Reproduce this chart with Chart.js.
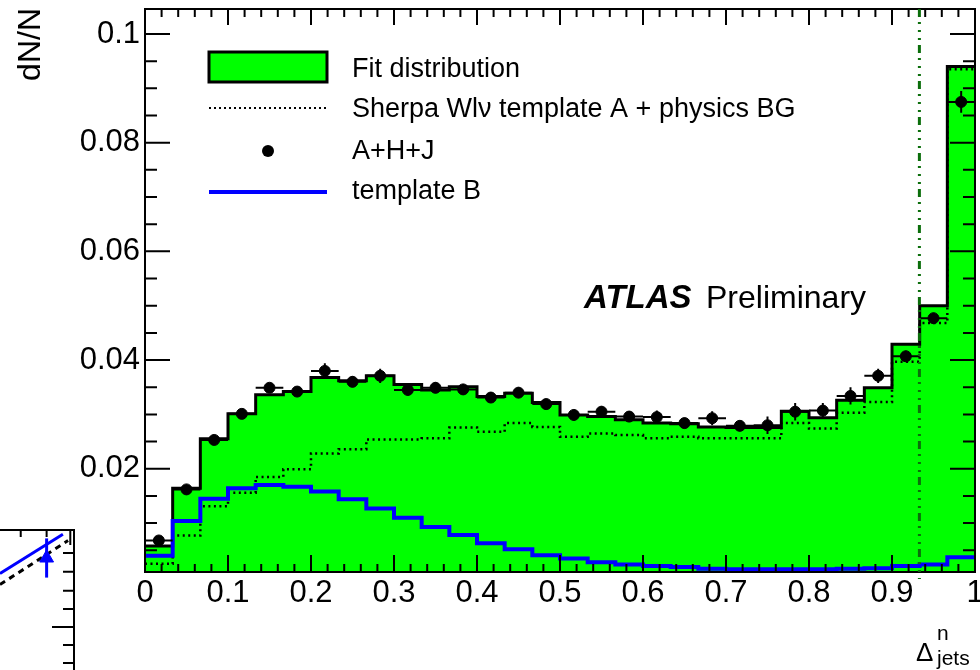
<!DOCTYPE html>
<html>
<head>
<meta charset="utf-8">
<script src="https://cdn.jsdelivr.net/npm/chart.js@4.4.1/dist/chart.umd.min.js"></script>
<style>
    body { margin: 0; background: #fff; }
    #wrap { position: relative; width: 980px; height: 670px; overflow: hidden; }
    #frag { position: absolute; left: 0; top: 520px; }
    #main { position: absolute; left: 0; top: 0; }
</style>
</head>
<body>
<div id="wrap">
    <canvas id="frag" width="90" height="150"></canvas>
    <canvas id="main" width="980" height="670"></canvas>
</div>
<script>
const FONT = '"Liberation Sans", Arial, Helvetica, sans-serif';

// 30 bins over 0..1
const N_BINS = 30;
const X_MIN = 0, X_MAX = 1;
const Y_MIN = 0.001, Y_MAX = 0.1046;
const CUT_VALUE = 0.933;

const X_TICKS  = [0, 0.1, 0.2, 0.3, 0.4, 0.5, 0.6, 0.7, 0.8, 0.9, 1];
const X_LABELS = ['0', '0.1', '0.2', '0.3', '0.4', '0.5', '0.6', '0.7', '0.8', '0.9', '1'];
const Y_TICKS  = [0.02, 0.04, 0.06, 0.08, 0.1];
const Y_LABELS = ['0.02', '0.04', '0.06', '0.08', '0.1'];

const NAMES = ['Fit distribution', 'Sherpa Wl\u03BD template A + physics BG', 'A+H+J', 'template B'];

const FIT = [0.0058, 0.0164, 0.0255, 0.0301, 0.0336, 0.0342, 0.0368, 0.0362, 0.0371, 0.0355,
             0.0345, 0.0351, 0.0333, 0.0339, 0.0322, 0.0299, 0.0296, 0.0290, 0.0284, 0.0283,
             0.0277, 0.0276, 0.0276, 0.0306, 0.0294, 0.0326, 0.0349, 0.0429, 0.0500, 0.0940];

const SHERPA = [0.0025, 0.0077, 0.0131, 0.0156, 0.0185, 0.0199, 0.0228, 0.0236, 0.0254, 0.0254,
                0.0256, 0.0276, 0.0268, 0.0284, 0.0277, 0.0259, 0.0265, 0.0262, 0.0256, 0.0259,
                0.0256, 0.0256, 0.0256, 0.0284, 0.0274, 0.0303, 0.0323, 0.0397, 0.0468, 0.0935];

const DATA = [0.0068, 0.0162, 0.0253, 0.0301, 0.0349, 0.0342, 0.0380, 0.0360, 0.0371, 0.0345,
              0.0349, 0.0346, 0.0331, 0.0340, 0.0319, 0.0299, 0.0305, 0.0296, 0.0295, 0.0284,
              0.0293, 0.0279, 0.0280, 0.0305, 0.0307, 0.0334, 0.0371, 0.0407, 0.0477, 0.0875];

const DATA_ERR = [0.0008, 0.0008, 0.0008, 0.0008, 0.0008, 0.0008, 0.0014, 0.0010, 0.0013, 0.0010,
                  0.0010, 0.0010, 0.0010, 0.0010, 0.0010, 0.0010, 0.0010, 0.0010, 0.0012, 0.0010,
                  0.0013, 0.0010, 0.0016, 0.0016, 0.0014, 0.0016, 0.0013, 0.0010, 0.0010, 0.0020];

const TEMPLATE_B = [0.0040, 0.0104, 0.0145, 0.0164, 0.0170, 0.0167, 0.0158, 0.0144, 0.0127, 0.0110,
                    0.0093, 0.0078, 0.0063, 0.0052, 0.0041, 0.0035, 0.0028, 0.0024, 0.0021, 0.0019,
                    0.0016, 0.0015, 0.0015, 0.0015, 0.0015, 0.0016, 0.0017, 0.0021, 0.0024, 0.0037];

// piece of the neighbouring panel, cut off at bottom left
const FRAG_LINE_X   = [0, 0.85];
const FRAG_LINE_Y   = [0.69, 0.97];
const FRAG_DASH_X   = [0, 0.92];
const FRAG_DASH_Y   = [0.61, 0.925];
const FRAG_POINT    = { x: 0.63, y: 0.80, err: 0.14 };
const FRAG_TOP_TICKS   = [0.28, 0.63, 0.95];
const FRAG_RIGHT_TICKS = [0.05, 0.179, 0.307, 0.436, 0.566, 0.702, 0.836];

Chart.defaults.font.family = FONT;
Chart.defaults.color = '#000';

const binW = (X_MAX - X_MIN) / N_BINS;
const edge = i => X_MIN + i * binW;

// histogram outline: two points per bin
function histPoints(vals) {
    const pts = [];
    vals.forEach((v, i) => {
        pts.push({ x: edge(i), y: v });
        pts.push({ x: edge(i + 1), y: v });
    });
    return pts;
}

const frameTicks = {
    id: 'frameTicks',
    afterDatasetsDraw(chart) {
        const { ctx, chartArea: a, scales: { x, y } } = chart;
        ctx.save();
        ctx.strokeStyle = '#000';
        ctx.lineWidth = 2;
        ctx.beginPath();
        for (let i = 0; i <= 50; i++) {
            const px = x.getPixelForValue(i * 0.02);
            const major = i % 5 === 0;
            ctx.moveTo(px, a.bottom); ctx.lineTo(px, a.bottom - (major ? 17 : 8));
            ctx.moveTo(px, a.top);    ctx.lineTo(px, a.top + (major ? 16 : 8));
        }
        for (let i = 1; i <= 20; i++) {
            const py = y.getPixelForValue(i * 0.005);
            const major = i % 4 === 0;
            ctx.moveTo(a.left, py);  ctx.lineTo(a.left + (major ? 25 : 12), py);
            ctx.moveTo(a.right, py); ctx.lineTo(a.right - (major ? 25 : 12), py);
        }
        ctx.stroke();
        ctx.strokeRect(a.left, a.top, a.right - a.left, a.bottom - a.top);

        // cut line
        const cx = x.getPixelForValue(CUT_VALUE);
        ctx.strokeStyle = '#0b6e0b';
        ctx.lineWidth = 3;
        ctx.setLineDash([8, 5, 2, 6, 2, 6, 2, 5]);
        ctx.beginPath();
        ctx.moveTo(cx, a.top);
        ctx.lineTo(cx, a.bottom + 7);
        ctx.stroke();
        ctx.restore();
    }
};

const errorBars = {
    id: 'errorBars',
    afterDatasetsDraw(chart) {
        const { ctx, scales: { x, y } } = chart;
        ctx.save();
        ctx.strokeStyle = '#000';
        ctx.lineWidth = 2;
        ctx.beginPath();
        DATA.forEach((v, i) => {
            const py = y.getPixelForValue(v);
            const cx = x.getPixelForValue(edge(i) + binW / 2);
            ctx.moveTo(x.getPixelForValue(edge(i)), py);
            ctx.lineTo(x.getPixelForValue(edge(i + 1)), py);
            ctx.moveTo(cx, y.getPixelForValue(v - DATA_ERR[i]));
            ctx.lineTo(cx, y.getPixelForValue(v + DATA_ERR[i]));
        });
        ctx.stroke();
        ctx.restore();
    }
};

const annotations = {
    id: 'annotations',
    afterDraw(chart) {
        const { ctx } = chart;
        ctx.save();
        ctx.fillStyle = '#000';

        // legend
        ctx.lineWidth = 3;
        ctx.fillStyle = '#00ff00';
        ctx.strokeStyle = '#000';
        ctx.beginPath();
        ctx.rect(209, 52, 118, 30);
        ctx.fill();
        ctx.stroke();

        ctx.lineWidth = 2;
        ctx.setLineDash([2, 3]);
        ctx.beginPath();
        ctx.moveTo(209, 108); ctx.lineTo(327, 108);
        ctx.stroke();
        ctx.setLineDash([]);

        ctx.fillStyle = '#000';
        ctx.beginPath();
        ctx.arc(268, 151, 6, 0, Math.PI * 2);
        ctx.fill();

        ctx.strokeStyle = '#0000ff';
        ctx.lineWidth = 4;
        ctx.beginPath();
        ctx.moveTo(209, 192); ctx.lineTo(327, 192);
        ctx.stroke();

        ctx.font = '27px ' + FONT;
        ctx.textAlign = 'left';
        ctx.textBaseline = 'alphabetic';
        ctx.fillText(NAMES[0], 352, 77);
        ctx.fillText(NAMES[1], 352, 117);
        ctx.fillText(NAMES[2], 352, 159);
        ctx.fillText(NAMES[3], 352, 199);

        // ATLAS label
        ctx.font = 'italic bold 33px ' + FONT;
        ctx.fillText('ATLAS', 584, 308);
        ctx.font = '32px ' + FONT;
        ctx.fillText('Preliminary', 706, 308);

        // x title
        ctx.font = '26px ' + FONT;
        ctx.fillText('\u0394', 916, 661);
        ctx.font = '21px ' + FONT;
        ctx.fillText('n', 937, 640);
        ctx.fillText('jets', 937, 665);

        // y title
        ctx.translate(40, 8);
        ctx.rotate(-Math.PI / 2);
        ctx.font = '32px ' + FONT;
        ctx.textAlign = 'right';
        ctx.fillText('dN/N', 0, 0);
        ctx.restore();
    }
};

new Chart(document.getElementById('main'), {
    type: 'line',
    data: {
        datasets: [
            {
                type: 'scatter',
                label: NAMES[2],
                data: DATA.map((v, i) => ({ x: edge(i) + binW / 2, y: v })),
                backgroundColor: '#000',
                borderColor: '#000',
                pointRadius: 5.5,
                order: 0,
            },
            {
                label: NAMES[3],
                data: histPoints(TEMPLATE_B),
                borderColor: '#0000ff',
                borderWidth: 4,
                pointRadius: 0,
                fill: false,
                order: 1,
            },
            {
                label: NAMES[1],
                data: histPoints(SHERPA),
                borderColor: '#000',
                borderWidth: 2.5,
                borderDash: [2, 3.5],
                pointRadius: 0,
                fill: false,
                order: 2,
            },
            {
                label: NAMES[0],
                data: histPoints(FIT),
                borderColor: '#000',
                backgroundColor: '#00ff00',
                borderWidth: 3,
                pointRadius: 0,
                fill: 'start',
                order: 3,
            },
        ]
    },
    options: {
        responsive: false,
        animation: false,
        layout: { autoPadding: false, padding: { top: 9, right: 5, left: 0, bottom: 0 } },
        plugins: {
            legend: { display: false },
            tooltip: { enabled: false },
        },
        scales: {
            x: {
                type: 'linear',
                min: X_MIN, max: X_MAX,
                grid: { display: false, drawTicks: false },
                border: { display: false },
                afterBuildTicks: s => { s.ticks = X_TICKS.map(v => ({ value: v })); },
                afterFit: s => { s.height = 98; s.paddingLeft = 0; s.paddingRight = 0; },
                ticks: {
                    autoSkip: false, maxRotation: 0, padding: 3, color: '#000',
                    font: { size: 31, lineHeight: 1.2 },
                    callback: (v, i) => X_LABELS[i],
                },
            },
            y: {
                min: Y_MIN, max: Y_MAX,
                grid: { display: false, drawTicks: false },
                border: { display: false },
                afterBuildTicks: s => { s.ticks = Y_TICKS.map(v => ({ value: v })); },
                afterFit: s => { s.width = 145; s.paddingTop = 0; s.paddingBottom = 0; },
                ticks: {
                    autoSkip: false, padding: 5, color: '#000',
                    font: { size: 31, lineHeight: 1.2 },
                    callback: (v, i) => Y_LABELS[i],
                },
            },
        },
    },
    plugins: [errorBars, frameTicks, annotations],
});

const fragFrame = {
    id: 'fragFrame',
    afterDatasetsDraw(chart) {
        const { ctx, chartArea: a, scales: { x, y } } = chart;
        const px = x.getPixelForValue(FRAG_POINT.x);
        ctx.save();
        ctx.strokeStyle = '#0000ff';
        ctx.lineWidth = 3;
        ctx.beginPath();
        ctx.moveTo(px, y.getPixelForValue(FRAG_POINT.y + FRAG_POINT.err));
        ctx.lineTo(px, y.getPixelForValue(FRAG_POINT.y - FRAG_POINT.err));
        ctx.stroke();

        ctx.strokeStyle = '#000';
        ctx.lineWidth = 2;
        ctx.beginPath();
        ctx.moveTo(a.left, a.top); ctx.lineTo(a.right, a.top); ctx.lineTo(a.right, a.bottom);
        FRAG_TOP_TICKS.forEach((v, i) => {
            const tx = x.getPixelForValue(v);
            ctx.moveTo(tx, a.top); ctx.lineTo(tx, a.top + (i === FRAG_TOP_TICKS.length - 1 ? 15 : 7));
        });
        FRAG_RIGHT_TICKS.forEach((v, i) => {
            const ty = y.getPixelForValue(v);
            ctx.moveTo(a.right, ty); ctx.lineTo(a.right - (i === 2 ? 22 : 11), ty);
        });
        ctx.stroke();
        ctx.restore();
    }
};

new Chart(document.getElementById('frag'), {
    type: 'line',
    data: {
        datasets: [
            {
                type: 'scatter',
                data: [{ x: FRAG_POINT.x, y: FRAG_POINT.y }],
                pointStyle: 'triangle',
                pointRadius: 8,
                backgroundColor: '#0000ff',
                borderColor: '#0000ff',
                order: 0,
            },
            {
                data: FRAG_LINE_X.map((v, i) => ({ x: v, y: FRAG_LINE_Y[i] })),
                borderColor: '#0000ff',
                borderWidth: 3,
                pointRadius: 0,
                order: 1,
            },
            {
                data: FRAG_DASH_X.map((v, i) => ({ x: v, y: FRAG_DASH_Y[i] })),
                borderColor: '#000',
                borderWidth: 3,
                borderDash: [6, 5],
                pointRadius: 0,
                order: 2,
            },
        ]
    },
    options: {
        responsive: false,
        animation: false,
        layout: { autoPadding: false, padding: { top: 10, right: 16, left: 0, bottom: 0 } },
        plugins: { legend: { display: false }, tooltip: { enabled: false } },
        scales: {
            x: { type: 'linear', display: false, min: 0, max: 1 },
            y: { display: false, min: 0, max: 1 },
        },
    },
    plugins: [fragFrame],
});
</script>
</body>
</html>
